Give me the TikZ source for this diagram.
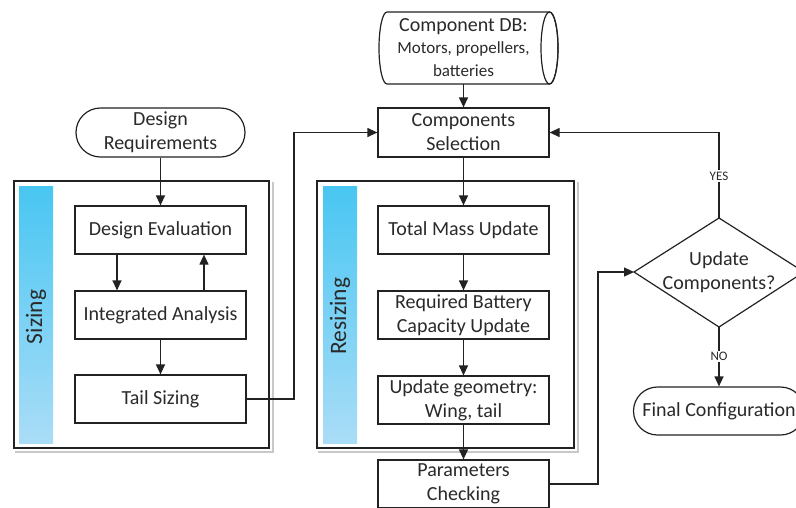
\documentclass[tikz,border=0pt]{standalone}
\usepackage{fontspec}
\setmainfont{Carlito}
\usetikzlibrary{arrows.meta,calc}
\definecolor{linec}{HTML}{222222}
\definecolor{txt}{HTML}{2A2A2A}
\definecolor{barTop}{HTML}{48C6F2}
\definecolor{barBot}{HTML}{AADDF7}
\definecolor{shadowc}{HTML}{C8C8C8}
\begin{document}
\begin{tikzpicture}[x=1pt,y=-1pt,
  font=\fontsize{20}{24}\selectfont,
  proc/.style={draw=linec, line width=1.2pt, minimum width=171pt, minimum height=48pt,
    inner sep=0pt, align=center, text=txt, fill=white},
  term/.style={proc, rounded corners=24pt},
  group/.style={draw=linec, line width=2pt, inner sep=0pt},
  bar/.style={top color=barTop, bottom color=barBot, draw=none,
    minimum width=34pt, minimum height=257pt, inner sep=0pt},
  grouplabel/.style={font=\fontsize{23.5}{24}\selectfont, rotate=90, text=txt},
  flow/.style={draw=linec, line width=1.2pt, -{Triangle[length=10pt,width=9pt]}},
  yn/.style={font=\fontsize{13}{15}\selectfont, fill=white, inner sep=1.5pt, text=txt}]
\useasboundingbox (0,0) rectangle (796,507);

% ---- sizing group ----
\node[group, minimum width=255pt, minimum height=267pt] (sz) at (141.5,314.5) {};
\draw[shadowc, line width=2pt] ($(sz.south west)+(2,2.5)$) -- ($(sz.south east)+(2.5,2.5)$) -- ($(sz.north east)+(2.5,2)$);
\node[bar] (bar1) at (36,314.5) {};
\node[grouplabel] (lab1) at (36,317) {Sizing};

\node[term, minimum width=169pt, minimum height=49pt, rounded corners=24.5pt] (req) at (160.5,132.5) {Design\\Requirements};
\node[proc] (de) at (160.5,230) {Design Evaluation};
\node[proc] (ia) at (160.5,315) {Integrated Analysis};
\node[proc] (ts) at (160.5,399) {Tail Sizing};

% ---- resizing group ----
\node[group, minimum width=257pt, minimum height=267pt] (rs) at (445.5,314.5) {};
\draw[shadowc, line width=2pt] ($(rs.south west)+(2,2.5)$) -- ($(rs.south east)+(2.5,2.5)$) -- ($(rs.north east)+(2.5,2)$);
\node[bar] (bar2) at (340,314.5) {};
\node[grouplabel] (lab2) at (340,316) {Resizing};

% ---- component database (horizontal cylinder); y axis points down here ----
\draw[linec, line width=1.2pt, fill=white]
  (387,12) -- (549.5,12) arc[start angle=-90, end angle=90, x radius=8.5, y radius=36]
  -- (387,84) arc[start angle=90, end angle=270, x radius=8, y radius=36] -- cycle;
\draw[linec, line width=1.2pt] (549.5,48) ellipse[x radius=8.5, y radius=36];
\node[align=center, text=txt, minimum width=160pt, minimum height=72pt, inner sep=0pt] (db) at (463.5,48)
  {Component DB:\\[-2pt]{\fontsize{17}{20}\selectfont Motors, propellers,}\\[-1pt]{\fontsize{17}{20}\selectfont batteries}};

\node[proc, minimum height=49pt] (cs) at (463.5,132.5) {Components\\Selection};
\node[proc] (tmu) at (463.5,230) {Total Mass Update};
\node[proc] (rbc) at (463.5,315) {Required Battery\\Capacity Update};
\node[proc] (ug) at (463.5,400) {Update geometry:\\Wing, tail};
\node[proc] (pc) at (463.5,484) {Parameters\\Checking};

% ---- decision ----
\coordinate (dN) at (719,218);
\coordinate (dS) at (719,327);
\coordinate (dW) at (634,272);
\coordinate (dE) at (804,272);
\draw[linec, line width=1.2pt, fill=white] (dN) -- (dE) -- (dS) -- (dW) -- cycle;
\node[align=center, text=txt, inner sep=0pt] (dec) at (719,272) {Update\\Components?};

\node[term] (fc) at (719,411) {Final Configuration};

% ---- connectors ----
\coordinate (j1) at (294,0);
\coordinate (j2) at (598,0);
\draw[flow] (req.south) -- (de.north);
\draw[flow] ([xshift=-43.5pt]de.south) -- ([xshift=-43.5pt]ia.north);
\draw[flow] ([xshift=43.5pt]ia.north) -- ([xshift=43.5pt]de.south);
\draw[flow] (ia.south) -- (ts.north);
\draw[flow] (ts.east) -| (j1 |- cs.west) -- (cs.west);
\draw[flow] (db.south) -- (cs.north);
\draw[flow] (cs.south) -- (tmu.north);
\draw[flow] (tmu.south) -- (rbc.north);
\draw[flow] (rbc.south) -- (ug.north);
\draw[flow] (ug.south) -- (pc.north);
\draw[flow] (pc.east) -| (j2 |- dW) -- (dW);
\draw[flow] (dN) |- node[yn, pos=0.245] {YES} (cs.east);
\draw[flow] (dS) -- node[yn] {NO} (fc.north);
\end{tikzpicture}
\end{document}
